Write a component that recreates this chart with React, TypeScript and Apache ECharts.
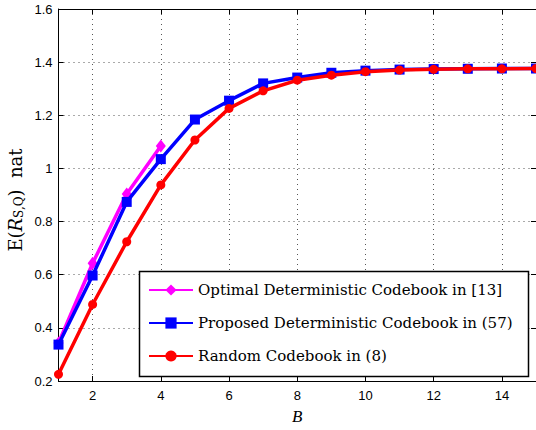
import React, { useEffect, useRef } from "react";
import * as echarts from "echarts";

const bValues = [1, 2, 3, 4, 5, 6, 7, 8, 9, 10, 11, 12, 13, 14, 15];
const optimalValues = [0.343, 0.643, 0.904, 1.084];
const proposedValues = [0.337, 0.597, 0.874, 1.035, 1.184, 1.255, 1.32, 1.342, 1.36, 1.368, 1.372, 1.374, 1.375, 1.376, 1.376];
const randomValues = [0.225, 0.488, 0.724, 0.938, 1.107, 1.226, 1.292, 1.332, 1.351, 1.364, 1.37, 1.373, 1.375, 1.375, 1.376];
const seriesNames = [
  "Optimal Deterministic Codebook in [13]",
  "Proposed Deterministic Codebook in (57)",
  "Random Codebook in (8)",
];

const toPairs = (vals: number[]) => vals.map((v, i) => [bValues[i], v]);

export default function App() {
  const ref = useRef<HTMLDivElement>(null);
  useEffect(() => {
    if (!ref.current) return;
    const chart = echarts.init(ref.current, null, { renderer: "svg" });
    const serif = "'DejaVu Serif', 'Liberation Serif', serif";
    const lserif = "'Liberation Serif', 'DejaVu Serif', serif";
    const sans = "'Liberation Sans', Arial, sans-serif";
    const gridLine = { show: true, lineStyle: { color: "#555", width: 1, type: [1, 4] as any } };
    chart.setOption({
      animation: false,
      backgroundColor: "#fff",
      grid: { left: 58.5, top: 9, width: 479, height: 376, containLabel: false },
      xAxis: [
        {
          type: "value",
          min: 1,
          max: 15,
          splitNumber: 7,
          axisLine: { show: true, lineStyle: { color: "#000", width: 1 } },
          axisTick: { show: true, inside: true, length: 5, lineStyle: { color: "#000" } },
          axisLabel: { showMinLabel: false, showMaxLabel: false, color: "#000", fontFamily: sans, fontSize: 13, margin: 8 },
          splitLine: gridLine,
          name: "B",
          nameLocation: "middle",
          nameGap: 27,
          nameTextStyle: { fontFamily: lserif, fontStyle: "italic", fontSize: 17, color: "#000" },
        },
        {
          type: "value",
          position: "top",
          min: 1,
          max: 15,
          splitNumber: 7,
          axisLine: { show: true, lineStyle: { color: "#000", width: 1 } },
          axisTick: { show: true, inside: true, length: 5, lineStyle: { color: "#000" } },
          axisLabel: { show: false },
          splitLine: { show: false },
        },
      ],
      yAxis: [
        {
          type: "value",
          min: 0.2,
          max: 1.6,
          interval: 0.2,
          axisLine: { show: true, lineStyle: { color: "#000", width: 1 } },
          axisTick: { show: true, inside: true, length: 5, lineStyle: { color: "#000" } },
          axisLabel: { color: "#000", fontFamily: sans, fontSize: 13, margin: 6 },
          splitLine: gridLine,
        },
        {
          type: "value",
          position: "right",
          min: 0.2,
          max: 1.6,
          interval: 0.2,
          axisLine: { show: true, lineStyle: { color: "#000", width: 1 } },
          axisTick: { show: true, inside: true, length: 5, lineStyle: { color: "#000" } },
          axisLabel: { show: false },
          splitLine: { show: false },
        },
      ],
      legend: {
        left: 148,
        top: 282,
        padding: 0,
        orient: "vertical",
        itemWidth: 44,
        itemHeight: 14,
        itemGap: 17,
        selectedMode: false,
        z: 10,
        textStyle: { fontFamily: serif, fontSize: 15, color: "#000", lineHeight: 16, padding: [0, 0, 0, 0] },
        data: seriesNames,
      },
      graphic: [
        {
          type: "rect",
          z: 8,
          shape: { x: 139.5, y: 271.5, width: 389, height: 105 },
          style: { fill: "#fff", stroke: "#000", lineWidth: 1.5 },
        },
        {
          type: "text",
          x: 15,
          y: 200,
          rotation: Math.PI / 2,
          style: {
            text: "{a|E(}{i|R}{s|S,Q}{a|)  nat}",
            align: "center",
            verticalAlign: "middle",
            rich: {
              a: { fontFamily: serif, fontSize: 18, fill: "#000", lineHeight: 20 },
              i: { fontFamily: serif, fontSize: 18, fontStyle: "italic", fill: "#000", lineHeight: 20 },
              s: { fontFamily: serif, fontSize: 12, fill: "#000", lineHeight: 20, padding: [7, 0, 0, 0] },
            },
          },
        },
      ],
      series: [
        {
          name: seriesNames[0],
          type: "line",
          data: toPairs(optimalValues),
          color: "#ff00ff",
          symbol: "diamond",
          symbolSize: [10, 13],
          lineStyle: { width: 3.5, color: "#ff00ff" },
          itemStyle: { color: "#ff00ff" },
          z: 2,
        },
        {
          name: seriesNames[1],
          type: "line",
          data: toPairs(proposedValues),
          color: "#0000ff",
          symbol: "rect",
          symbolSize: 10,
          lineStyle: { width: 3.5, color: "#0000ff" },
          itemStyle: { color: "#0000ff" },
          z: 3,
        },
        {
          name: seriesNames[2],
          type: "line",
          data: toPairs(randomValues),
          color: "#ff0000",
          symbol: "circle",
          symbolSize: 9,
          lineStyle: { width: 3.5, color: "#ff0000" },
          itemStyle: { color: "#ff0000" },
          z: 4,
        },
      ],
    });
    return () => chart.dispose();
  }, []);
  return (
    <div
      ref={ref}
      style={{ position: "absolute", left: 0, top: 0, width: 536, height: 430, background: "#fff" }}
    />
  );
}
